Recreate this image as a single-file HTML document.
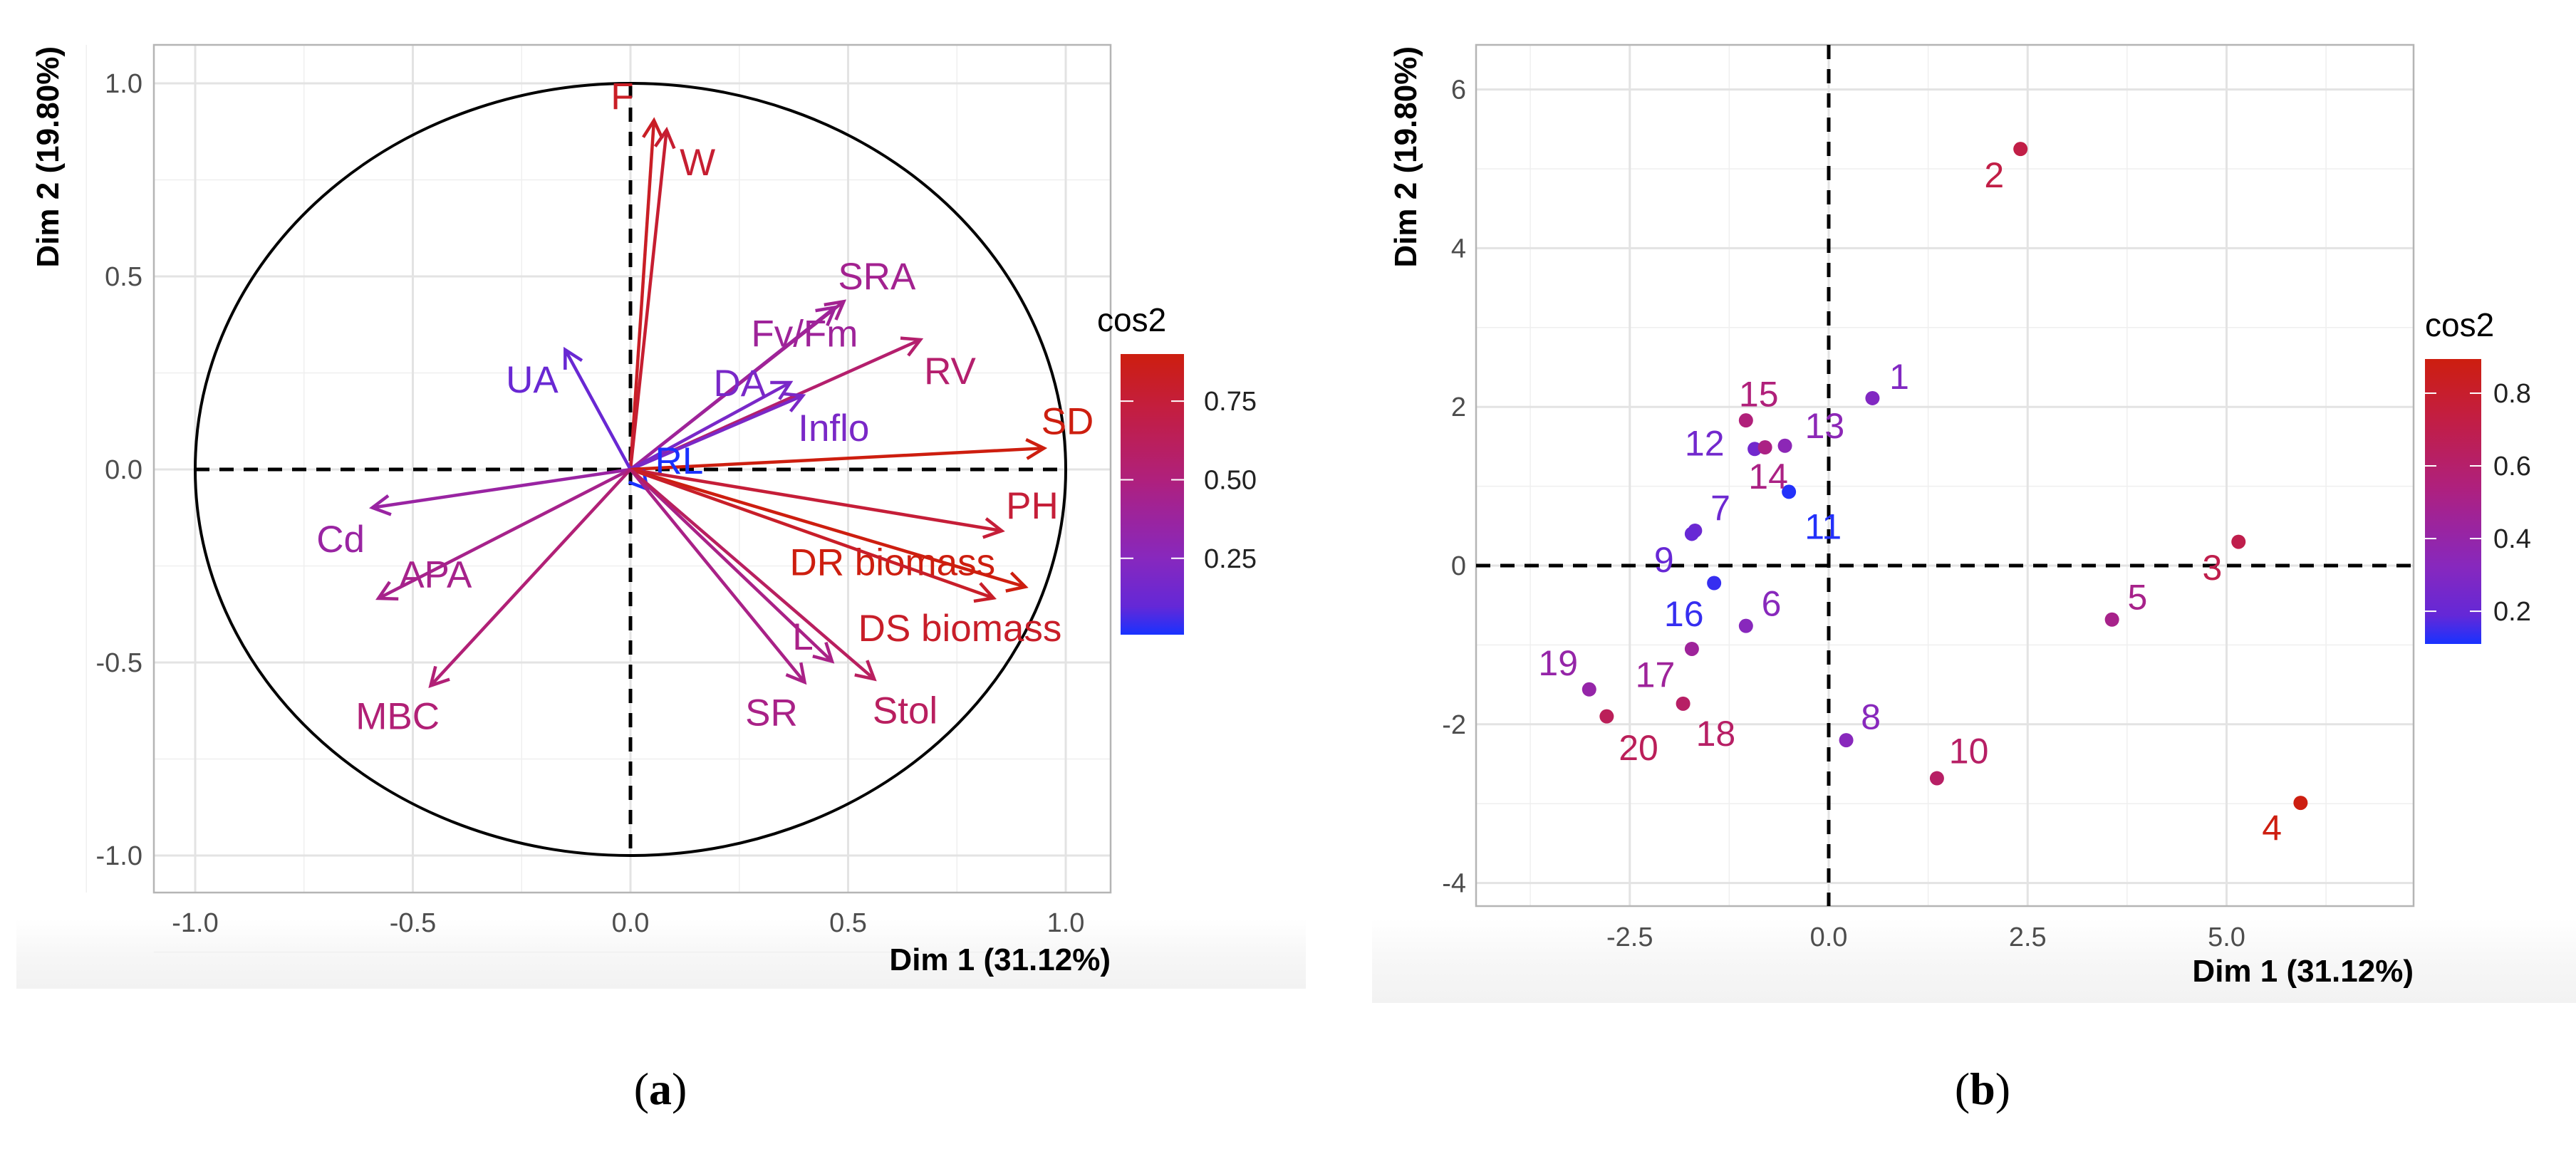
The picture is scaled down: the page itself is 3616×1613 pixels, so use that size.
<!DOCTYPE html>
<html><head><meta charset="utf-8"><style>
html,body{margin:0;padding:0;background:#fff;}
svg text{font-family:"Liberation Sans",sans-serif;}
</style></head><body>
<svg id="fig" width="3616" height="1608" viewBox="0 0 3616 1608" xmlns="http://www.w3.org/2000/svg">
<defs>
<linearGradient id="band" x1="0" y1="0" x2="0" y2="1"><stop offset="0" stop-color="#fff"/><stop offset="0.5" stop-color="#f7f7f7"/><stop offset="1" stop-color="#f2f2f2"/></linearGradient>
<linearGradient id="cbar" x1="0" y1="1" x2="0" y2="0">
<stop offset="0" stop-color="rgb(25,50,255)"/><stop offset="0.1" stop-color="rgb(100,40,215)"/><stop offset="0.27" stop-color="rgb(135,40,190)"/><stop offset="0.45" stop-color="rgb(160,35,150)"/><stop offset="0.55" stop-color="rgb(175,32,125)"/><stop offset="0.8" stop-color="rgb(195,30,65)"/><stop offset="1" stop-color="rgb(205,30,15)"/>
</linearGradient>
</defs>
<rect x="23" y="1290" width="1810" height="98" fill="url(#band)"/>
<rect x="1926" y="1290" width="1690" height="118" fill="url(#band)"/>
<g id="pa"></g>
<g id="pb"></g>
<text x="927" y="1550" text-anchor="middle" font-size="64" style="font-family:'Liberation Serif',serif">(<tspan font-weight="bold">a</tspan>)</text>
<text x="2783" y="1550" text-anchor="middle" font-size="64" style="font-family:'Liberation Serif',serif">(<tspan font-weight="bold">b</tspan>)</text>
</svg>
<script>
// ---- Panel A data (variables) ----
const varNames = ["F","W","SRA","Fv/Fm","RV","DA","Inflo","UA","SD","RL","PH","DR biomass","DS biomass","L","SR","Stol","Cd","APA","MBC"];
const varDim1 = [0.054,0.083,0.49,0.47,0.666,0.367,0.396,-0.15,0.95,0.039,0.853,0.907,0.834,0.463,0.40,0.56,-0.593,-0.579,-0.459];
const varDim2 = [0.904,0.879,0.435,0.42,0.336,0.225,0.191,0.31,0.055,-0.051,-0.159,-0.304,-0.333,-0.497,-0.551,-0.543,-0.099,-0.334,-0.56];
const varLabelX = [-0.019,0.154,0.566,0.40,0.734,0.251,0.467,-0.226,1.004,0.112,0.923,0.602,0.757,0.396,0.324,0.631,-0.666,-0.448,-0.535];
const varLabelY = [0.968,0.797,0.502,0.353,0.256,0.225,0.109,0.234,0.126,0.024,-0.092,-0.239,-0.41,-0.432,-0.628,-0.623,-0.179,-0.27,-0.637];
const aTicks = [-1.0,-0.5,0.0,0.5,1.0];
const aTickLabels = ["-1.0","-0.5","0.0","0.5","1.0"];
const aLegendTicks = [0.25,0.50,0.75];
const aLegendLabels = ["0.25","0.50","0.75"];
// ---- Panel B data (individuals) ----
const indNames = ["1","2","3","4","5","6","7","8","9","10","11","12","13","14","15","16","17","18","19","20"];
const indDim1 = [0.55,2.41,5.15,5.93,3.56,-1.04,-1.68,0.22,-1.72,1.36,-0.50,-0.93,-0.55,-0.80,-1.04,-1.44,-1.72,-1.83,-3.01,-2.79];
const indDim2 = [2.11,5.25,0.30,-2.99,-0.68,-0.76,0.44,-2.20,0.40,-2.68,0.93,1.47,1.51,1.49,1.83,-0.22,-1.05,-1.74,-1.56,-1.90];
const indCos2 = [0.30,0.72,0.70,0.89,0.50,0.33,0.22,0.33,0.20,0.62,0.12,0.24,0.35,0.52,0.55,0.14,0.45,0.62,0.40,0.66];
const indLabelX = [0.887,2.08,4.82,5.57,3.88,-0.72,-1.36,0.53,-2.07,1.76,-0.07,-1.56,-0.05,-0.76,-0.88,-1.82,-2.18,-1.42,-3.40,-2.39];
const indLabelY = [2.39,4.93,-0.02,-3.30,-0.39,-0.47,0.73,-1.90,0.08,-2.33,0.50,1.55,1.77,1.13,2.17,-0.60,-1.37,-2.11,-1.22,-2.29];
const bXTicks = [-2.5,0.0,2.5,5.0];
const bXTickLabels = ["-2.5","0.0","2.5","5.0"];
const bYTicks = [-4,-2,0,2,4,6];
const bYTickLabels = ["-4","-2","0","2","4","6"];
const bLegendTicks = [0.2,0.4,0.6,0.8];
const bLegendLabels = ["0.2","0.4","0.6","0.8"];

const NS = "http://www.w3.org/2000/svg";
function mk(parent, tag, attrs){const e=document.createElementNS(NS,tag);for(const k in attrs)e.setAttribute(k,attrs[k]);parent.appendChild(e);return e;}
const cStops=[[0,[25,50,255]],[0.1,[100,40,215]],[0.27,[135,40,190]],[0.45,[160,35,150]],[0.55,[175,32,125]],[0.8,[195,30,65]],[1,[205,30,15]]];
function colorFor(v,lo,hi){
  let t=Math.max(0,Math.min(1,(v-lo)/(hi-lo)));
  for(let i=0;i<cStops.length-1;i++){
    const [a,ca]=cStops[i],[b,cb]=cStops[i+1];
    if(t<=b){const u=(t-a)/(b-a);return "rgb("+ca.map((x,k)=>Math.round(x+(cb[k]-x)*u)).join(",")+")";}
  }
  return "rgb(205,30,15)";
}
function grid(g,x0,y0,x1,y1,xs,ys,xMin,yMin){
  xMin.forEach(v=>{const l=mk(g,"line",{x1:v,x2:v,y1:y0,y2:y1,stroke:"#efefef","stroke-width":1.5});
    
    });
  yMin.forEach(v=>{const l=mk(g,"line",{x1:x0,x2:x1,y1:v,y2:v,stroke:"#efefef","stroke-width":1.5});
    
    });
  xs.forEach(v=>{const l=mk(g,"line",{x1:v,x2:v,y1:y0,y2:y1,stroke:"#e3e3e3","stroke-width":3});
    
    });
  ys.forEach(v=>{const l=mk(g,"line",{x1:x0,x2:x1,y1:v,y2:v,stroke:"#e3e3e3","stroke-width":3});
    
    });
}

// ================= Panel A =================
(function(){
  const g=document.getElementById("pa");
  const X0=216,X1=1559,Y0=63,Y1=1253;
  const sx=v=>885+v*611, sy=v=>659-v*542;
  const xs=aTicks.map(sx), ys=aTicks.map(sy);
  const mids=[-1.25,-0.75,-0.25,0.25,0.75];
  grid(g,X0,Y0,X1,Y1,xs,ys,mids.map(sx),mids.map(sy));
  const box=mk(g,"rect",{x:X0,y:Y0,width:X1-X0,height:Y1-Y0,fill:"none",stroke:"#b5b5b5","stroke-width":2.5});
  
  
  const circ=mk(g,"ellipse",{cx:sx(0),cy:sy(0),rx:sx(1)-sx(0),ry:sy(0)-sy(1),fill:"none",stroke:"#000","stroke-width":4});
  
  
  const hz=mk(g,"line",{x1:sx(-1),x2:sx(1),y1:sy(0),y2:sy(0),stroke:"#000","stroke-width":5,"stroke-dasharray":"20 14"});
  
  
  const vt=mk(g,"line",{x1:sx(0),x2:sx(0),y1:sy(1),y2:sy(-1),stroke:"#000","stroke-width":5,"stroke-dasharray":"20 14"});
  
  
  aTicks.forEach((v,i)=>{
    const t=mk(g,"text",{x:sx(v),y:1308,"text-anchor":"middle","font-size":38,fill:"#4d4d4d"});t.textContent=aTickLabels[i];
    
    
    const u=mk(g,"text",{x:200,y:sy(v)+13,"text-anchor":"end","font-size":38,fill:"#4d4d4d"});u.textContent=aTickLabels[i];
    
    
  });
  varNames.forEach((n,i)=>{
    const x=varDim1[i],y=varDim2[i];
    const c=colorFor(x*x+y*y,0.007,0.90);
    const px=sx(x),py=sy(y),ox=sx(0),oy=sy(0);
    const ag=mk(g,"g",{});
    
    
    mk(ag,"line",{x1:ox,y1:oy,x2:px,y2:py,stroke:c,"stroke-width":4.5});
    const ang=Math.atan2(py-oy,px-ox),L=28,w=0.5;
    const p1=[px-L*Math.cos(ang-w),py-L*Math.sin(ang-w)],p2=[px-L*Math.cos(ang+w),py-L*Math.sin(ang+w)];
    mk(ag,"polyline",{points:p1.join(",")+" "+px+","+py+" "+p2.join(","),fill:"none",stroke:c,"stroke-width":4.5});
    const t=mk(g,"text",{x:sx(varLabelX[i]),y:sy(varLabelY[i])+19,"text-anchor":"middle","font-size":53,fill:c});
    t.textContent=n;
    
    
  });
  const xt=mk(g,"text",{x:X1,y:1362,"text-anchor":"end","font-size":44,"font-weight":"bold",fill:"#000"});xt.textContent="Dim 1 (31.12%)";
  
  
  const yt=mk(g,"text",{x:0,y:0,"text-anchor":"end","font-size":44,"font-weight":"bold",transform:"translate(82,65) rotate(-90)"});yt.textContent="Dim 2 (19.80%)";
  
  
  const lt=mk(g,"text",{x:1540,y:465,"font-size":46});lt.textContent="cos2";
  
  
  const bar=mk(g,"rect",{x:1573,y:497,width:89,height:394,fill:"url(#cbar)"});
  
  
  const ly=v=>891-(v-0.007)/(0.90-0.007)*394;
  aLegendTicks.forEach((v,i)=>{
    mk(g,"line",{x1:1573,x2:1591,y1:ly(v),y2:ly(v),stroke:"#fff","stroke-width":2});
    mk(g,"line",{x1:1644,x2:1662,y1:ly(v),y2:ly(v),stroke:"#fff","stroke-width":2});
    const t=mk(g,"text",{x:1690,y:ly(v)+13,"font-size":38,fill:"#222"});t.textContent=aLegendLabels[i];
    
    
  });
})();

// ================= Panel B =================
(function(){
  const g=document.getElementById("pb");
  const X0=2072,X1=3388,Y0=63,Y1=1272;
  const sx=v=>2567+v*111.7, sy=v=>794-v*111.4;
  const xs=bXTicks.map(sx), ys=bYTicks.map(sy);
  const xm=[-3.75,-1.25,1.25,3.75,6.25].map(sx), ym=[-3,-1,1,3,5].map(sy);
  grid(g,X0,Y0,X1,Y1,xs,ys,xm,ym);
  const box=mk(g,"rect",{x:X0,y:Y0,width:X1-X0,height:Y1-Y0,fill:"none",stroke:"#b5b5b5","stroke-width":2.5});
  
  
  const hz=mk(g,"line",{x1:X0,x2:X1,y1:sy(0),y2:sy(0),stroke:"#000","stroke-width":5,"stroke-dasharray":"20 14"});
  
  
  const vt=mk(g,"line",{x1:sx(0),x2:sx(0),y1:Y0,y2:Y1,stroke:"#000","stroke-width":5,"stroke-dasharray":"20 14"});
  
  
  bXTicks.forEach((v,i)=>{
    const t=mk(g,"text",{x:sx(v),y:1328,"text-anchor":"middle","font-size":38,fill:"#4d4d4d"});t.textContent=bXTickLabels[i];
    
    
  });
  bYTicks.forEach((v,i)=>{
    const t=mk(g,"text",{x:2058,y:sy(v)+13,"text-anchor":"end","font-size":38,fill:"#4d4d4d"});t.textContent=bYTickLabels[i];
    
    
  });
  indNames.forEach((n,i)=>{
    const c=colorFor(indCos2[i],0.11,0.894);
    const p=mk(g,"circle",{cx:sx(indDim1[i]),cy:sy(indDim2[i]),r:10,fill:c});
    
    
    const t=mk(g,"text",{x:sx(indLabelX[i]),y:sy(indLabelY[i])+18,"text-anchor":"middle","font-size":50,fill:c});
    t.textContent=n;
    
    
  });
  const xt=mk(g,"text",{x:X1,y:1378,"text-anchor":"end","font-size":44,"font-weight":"bold"});xt.textContent="Dim 1 (31.12%)";
  
  
  const yt=mk(g,"text",{x:0,y:0,"text-anchor":"end","font-size":44,"font-weight":"bold",transform:"translate(1988,65) rotate(-90)"});yt.textContent="Dim 2 (19.80%)";
  
  
  const lt=mk(g,"text",{x:3404,y:472,"font-size":46});lt.textContent="cos2";
  
  
  const bar=mk(g,"rect",{x:3404,y:504,width:79,height:400,fill:"url(#cbar)"});
  
  
  const ly=v=>904-(v-0.11)/(0.894-0.11)*400;
  bLegendTicks.forEach((v,i)=>{
    mk(g,"line",{x1:3404,x2:3420,y1:ly(v),y2:ly(v),stroke:"#fff","stroke-width":2});
    mk(g,"line",{x1:3467,x2:3483,y1:ly(v),y2:ly(v),stroke:"#fff","stroke-width":2});
    const t=mk(g,"text",{x:3500,y:ly(v)+13,"font-size":38,fill:"#222"});t.textContent=bLegendLabels[i];
    
    
  });
})();
</script>
</body></html>
